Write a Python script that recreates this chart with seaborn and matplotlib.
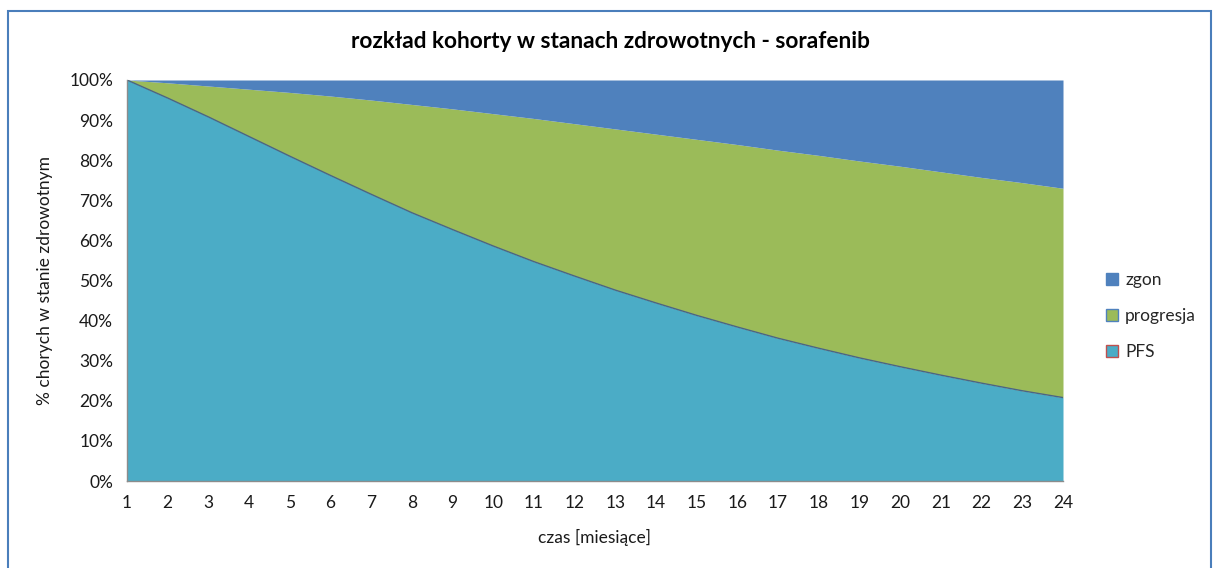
import matplotlib
matplotlib.use("Agg")
import matplotlib.pyplot as plt
from matplotlib.patches import Rectangle, Patch
from matplotlib.ticker import FuncFormatter, MultipleLocator
import seaborn as sns
import pandas as pd
import numpy as np

# ---- data ----
months = list(range(1, 25))
pfs = [100, 95.5, 90.8, 85.9, 81.0, 76.2, 71.5, 66.9, 62.7, 58.6, 54.7, 51.1,
       47.6, 44.4, 41.3, 38.4, 35.6, 33.1, 30.7, 28.5, 26.4, 24.4, 22.5, 20.8]
alive = [100, 99.3, 98.5, 97.7, 96.9, 96.0, 95.0, 93.9, 92.8, 91.6, 90.4, 89.1,
         87.8, 86.5, 85.2, 83.9, 82.5, 81.2, 79.8, 78.5, 77.1, 75.7, 74.4, 73.0]
series_names = ["PFS", "progresja", "zgon"]
title = "rozkład kohorty w stanach zdrowotnych - sorafenib"
xlabel = "czas [miesiące]"
ylabel = "% chorych w stanie zdrowotnym"

df = pd.DataFrame({"miesiac": months, "PFS": pfs, "alive": alive})
df["progresja"] = df["alive"] - df["PFS"]
df["zgon"] = 100 - df["alive"]

colors = {"PFS": "#4BACC6", "progresja": "#9BBB59", "zgon": "#4F81BD"}

sns.set_style("white")
plt.rcParams["font.family"] = ["Lato", "DejaVu Sans"]

fig = plt.figure(figsize=(12.14, 5.68), dpi=100)
ax = fig.add_axes([127/1214, 1-481/568, (1063-127)/1214, (481-80)/568])

ax.stackplot(df["miesiac"], df["PFS"], df["progresja"], df["zgon"],
             colors=[colors[s] for s in series_names], linewidth=0)
sns.lineplot(x="miesiac", y="PFS", data=df, ax=ax, color="#4A6585",
             linewidth=1.0, legend=False)

ax.set_xlim(1, 24)
ax.set_ylim(0, 100)
ax.set_xticks(months)
ax.yaxis.set_major_locator(MultipleLocator(10))
ax.yaxis.set_major_formatter(FuncFormatter(lambda v, p: f"{int(round(v))}%"))

for s in ["top", "right"]:
    ax.spines[s].set_visible(False)
for s in ["left", "bottom"]:
    ax.spines[s].set_color("#8C8C8C")
    ax.spines[s].set_linewidth(1.0)
ax.tick_params(axis="both", direction="out", length=6, width=1,
               color="#8C8C8C", labelsize=12.5, labelcolor="#1a1a1a")
ax.tick_params(axis="x", pad=4)
ax.tick_params(axis="y", pad=4)
ax.set_xlabel(xlabel, fontsize=12.5, color="#1a1a1a", labelpad=13)
ax.set_ylabel(ylabel, fontsize=12.5, color="#1a1a1a", labelpad=12)

fig.text(610/1214, 1-42/568, title, ha="center", va="center",
         fontsize=16.3, fontweight="bold", color="#000000")

handles = [Patch(facecolor=colors["zgon"], edgecolor=colors["zgon"], label="zgon"),
           Patch(facecolor=colors["progresja"], edgecolor="#4F81BD", label="progresja"),
           Patch(facecolor=colors["PFS"], edgecolor="#C0504D", label="PFS")]
fig.legend(handles=handles, loc="center left",
           bbox_to_anchor=(1099/1214, 1-316/568), frameon=False,
           fontsize=12.5, handlelength=0.7, handleheight=0.7,
           handletextpad=0.4, labelspacing=1.15, borderaxespad=0)

fig.patches.append(Rectangle((8/1214, -0.02), (1211-8)/1214, 1.02-11/568,
                             transform=fig.transFigure, fill=False,
                             edgecolor="#4A7EBB", linewidth=1.5))

fig.savefig("out.png", dpi=100)
